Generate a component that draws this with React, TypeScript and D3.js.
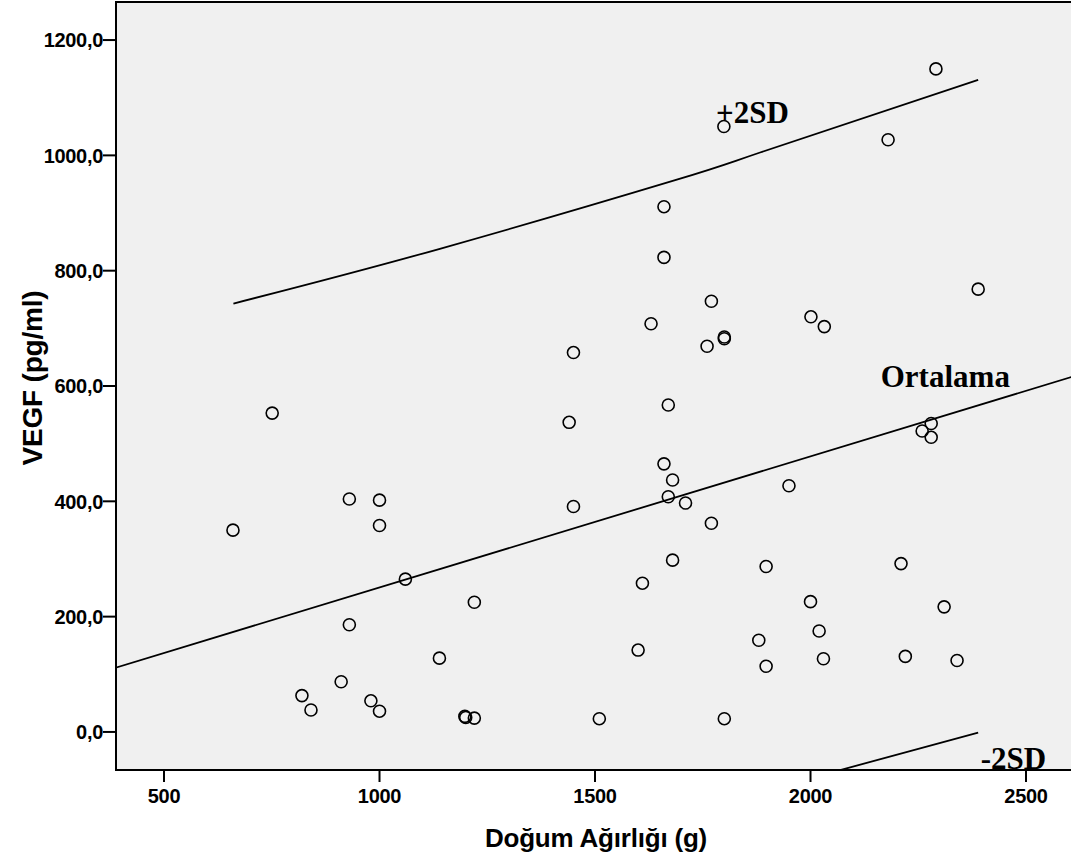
import React from "react";
import * as d3 from "d3";

// Scatter data: birth weight (g) vs VEGF (pg/ml)
const birthWeight = [
  660, 751, 930, 1000, 1000, 1060, 930, 1139, 911, 820, 841, 980, 1000,
  1450, 1440, 1450, 1630, 1660, 1660, 1760, 1770, 1800, 1800, 1670, 1660, 1680, 1670, 1710, 1770,
  1610, 1680, 1600, 1198, 1200, 1220, 1220, 1510, 1800, 1799,
  2291, 2180, 2389, 2001, 2032, 2280, 2259, 2280, 1950, 1897, 2210, 2000, 2310, 1880, 2020, 1897, 2030, 2220, 2340,
];
const vegf = [
  350, 553, 404, 402, 358, 265, 186, 128, 87, 63, 38, 54, 36,
  658, 537, 391, 708, 911, 823, 669, 747, 685, 682, 567, 465, 437, 408, 397, 362,
  258, 298, 142, 27, 25, 24, 225, 23, 23, 1050,
  1150, 1027, 768, 720, 703, 535, 522, 511, 427, 287, 292, 226, 217, 159, 175, 114, 127, 131, 124,
];

// Fit line (Ortalama) and ±2SD lines
const meanX = [388, 2607];
const meanY = [111.5, 616];
const sdX = [661, 1140, 1686, 1883, 2389];
const upperY = [743, 838, 957, 1005, 1131];
const lowerY = [-397, -274, -146, -104, -1];

const xTicks = [500, 1000, 1500, 2000, 2500];
const yTicks = [0, 200, 400, 600, 800, 1000, 1200];

const annotations = [
  { text: "+2SD", x: 1781, y: 1056 },
  { text: "Ortalama", x: 2163, y: 598 },
  { text: "-2SD", x: 2395, y: -64 },
];

const W = 1071;
const H = 862;
const L = 116, R = 1072, T = 2, B = 770;

export default function App() {
  const x = d3.scaleLinear().domain([388.6, 2606.7]).range([L, R]);
  const y = d3.scaleLinear().domain([-66, 1266]).range([B, T]);
  const fmtY = (v: number) => d3.format(".1f")(v).replace(".", ",");

  const line = d3.line<[number, number]>().x((d) => x(d[0])).y((d) => y(d[1]));
  const curve = d3
    .line<[number, number]>()
    .x((d) => x(d[0]))
    .y((d) => y(d[1]))
    .curve(d3.curveNatural);

  const meanPts = meanX.map((v, i) => [v, meanY[i]] as [number, number]);
  const upPts = sdX.map((v, i) => [v, upperY[i]] as [number, number]);
  const loPts = sdX.map((v, i) => [v, lowerY[i]] as [number, number]);

  const sans = "'Liberation Sans', Arial, sans-serif";
  const serif = "'Liberation Serif', 'Times New Roman', serif";

  return (
    <svg
      width={W}
      height={H}
      style={{ position: "fixed", left: 0, top: 0, background: "#fff" }}
    >
      <defs>
        <clipPath id="plotclip">
          <rect x={L} y={T} width={R - L} height={B - T} />
        </clipPath>
      </defs>
      <rect x={L} y={T} width={R - L + 4} height={B - T} fill="#f0f0f0" stroke="none" />
      <g clipPath="url(#plotclip)" fill="none" stroke="#000" strokeWidth={1.8}>
        <path d={line(meanPts) || ""} />
        <path d={curve(upPts) || ""} />
        <path d={curve(loPts) || ""} />
      </g>
      <g clipPath="url(#plotclip)">
        {birthWeight.map((bw, i) => (
          <circle
            key={i}
            cx={x(bw)}
            cy={y(vegf[i])}
            r={6}
            fill="none"
            stroke="#000"
            strokeWidth={1.6}
          />
        ))}
      </g>
      {annotations.map((a) => (
        <text
          key={a.text}
          x={x(a.x)}
          y={y(a.y)}
          fontFamily={serif}
          fontWeight="bold"
          fontSize={31}
          fill="#000"
        >
          {a.text}
        </text>
      ))}
      {/* frame */}
      <path d={`M${R + 4},${T}H${L}V${B}H${R + 4}`} fill="none" stroke="#000" strokeWidth={2} />
      {/* y axis ticks */}
      {yTicks.map((t) => (
        <g key={t}>
          <line x1={L - 13} x2={L} y1={y(t)} y2={y(t)} stroke="#000" strokeWidth={2} />
          <text
            x={L - 13}
            y={y(t)}
            dy="0.36em"
            textAnchor="end"
            fontFamily={sans}
            fontWeight="bold"
            fontSize={20}
            letterSpacing={-0.3}
            fill="#000"
          >
            {fmtY(t)}
          </text>
        </g>
      ))}
      {/* x axis ticks */}
      {xTicks.map((t) => (
        <g key={t}>
          <line x1={x(t)} x2={x(t)} y1={B} y2={B + 12} stroke="#000" strokeWidth={2} />
          <text
            x={x(t)}
            y={803}
            textAnchor="middle"
            fontFamily={sans}
            fontWeight="bold"
            fontSize={20}
            letterSpacing={-0.3}
            fill="#000"
          >
            {t}
          </text>
        </g>
      ))}
      <text
        x={596}
        y={847}
        textAnchor="middle"
        fontFamily={sans}
        fontWeight="bold"
        fontSize={26}
        letterSpacing={-0.2}
        fill="#000"
      >
        Doğum Ağırlığı (g)
      </text>
      <text
        transform={`translate(42,378) rotate(-90)`}
        textAnchor="middle"
        fontFamily={sans}
        fontWeight="bold"
        fontSize={28}
        letterSpacing={-0.2}
        fill="#000"
      >
        VEGF (pg/ml)
      </text>
    </svg>
  );
}
